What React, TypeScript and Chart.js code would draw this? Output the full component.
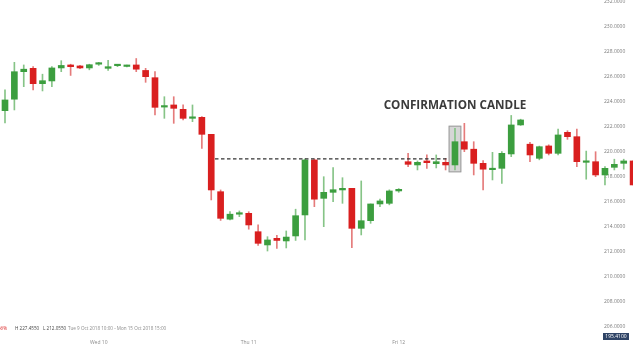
import React, { useEffect, useRef } from "react";
import { Chart, registerables } from "chart.js";
Chart.register(...registerables);

// ---- data (hourly candles, Tue 9 Oct 2018 – Mon 15 Oct 2018) ----
const opens = [
  223.28, 224.2, 226.4, 226.67, 225.44, 225.66, 226.7, 226.94, 226.86, 226.7,
  227.0, 226.67, 226.88, 226.82, 226.94, 226.5, 225.92, 223.57, 223.74, 223.39,
  222.67, 222.75, 221.39, 216.8, 214.6, 215.0, 215.07, 213.6, 212.54, 213.07,
  212.86, 213.26, 214.94, 219.34, 216.27, 216.75, 216.94, 217.07, 213.87, 214.48,
  215.82, 215.87, 216.86, 219.2, 218.94, 219.26, 219.04, 219.15, 218.94, 220.8,
  220.2, 219.07, 218.56, 218.67, 219.82, 222.14, 220.6, 219.47, 220.46, 219.87,
  221.55, 221.2, 219.15, 219.2, 218.14, 218.75, 219.07, 219.26,
];
const highs = [
  224.94, 227.15, 226.94, 226.8, 226.2, 226.8, 227.28, 227.0, 226.9, 227.0,
  227.15, 227.3, 226.95, 226.92, 227.455, 226.67, 226.4, 224.4, 224.4, 223.74,
  223.74, 222.8, 221.39, 216.94, 215.2, 215.26, 215.2, 214.14, 213.2, 213.3,
  213.66, 215.4, 219.42, 219.42, 218.0, 218.72, 217.92, 217.07, 217.66, 215.82,
  216.2, 216.95, 217.05, 219.87, 219.26, 219.74, 219.74, 219.47, 221.87, 222.27,
  220.8, 219.28, 219.95, 220.0, 222.9, 222.6, 220.75, 220.45, 220.55, 221.8,
  221.68, 221.8, 220.05, 220.0, 218.8, 219.4, 219.4, 219.26,
];
const lows = [
  222.3, 223.34, 225.2, 224.94, 224.86, 225.2, 226.4, 226.1, 226.65, 226.55,
  226.9, 226.5, 226.8, 226.78, 226.4, 225.55, 222.94, 222.67, 222.27, 222.54,
  222.4, 220.27, 216.14, 214.5, 214.54, 214.8, 213.8, 212.5, 212.055, 212.27,
  212.3, 212.9, 212.94, 215.6, 214.0, 216.0, 215.87, 212.32, 213.34, 214.27,
  215.6, 215.75, 216.75, 218.8, 218.54, 218.67, 218.7, 218.54, 218.54, 220.0,
  218.14, 216.94, 217.74, 217.47, 219.6, 222.1, 219.2, 219.35, 219.74, 219.74,
  220.99, 218.8, 217.8, 218.0, 217.34, 218.54, 218.6, 217.34,
];
const closes = [
  224.14, 226.4, 226.6, 225.44, 225.68, 226.7, 226.9, 226.8, 226.7, 226.96,
  227.1, 226.8, 226.92, 226.88, 226.6, 226.0, 223.55, 223.65, 223.47, 222.67,
  222.78, 221.39, 216.94, 214.67, 215.0, 215.1, 214.14, 212.67, 212.94, 212.9,
  213.17, 214.88, 219.34, 216.2, 216.75, 216.96, 217.07, 213.87, 214.48, 215.82,
  216.06, 216.86, 216.99, 218.99, 219.15, 219.12, 219.2, 218.94, 220.8, 220.2,
  219.07, 218.6, 218.67, 219.87, 222.14, 222.54, 219.74, 220.4, 219.87, 221.34,
  221.2, 219.2, 219.22, 218.14, 218.67, 218.99, 219.26, 217.34,
];

const dayTickIndex = [10, 26, 42];
const dayTickLabels = ["Wed 10", "Thu 11", "Fri 12"];
const yTickValues = [206, 208, 210, 212, 214, 216, 218, 220, 222, 224, 226, 228, 230, 232];

const resistanceLevel = 219.42;
const resistanceFrom = 22.4;
const resistanceTo = 47.2;
const confirmIndex = 48;
const confirmBoxLow = 218.35;
const confirmBoxHigh = 222.08;
const calloutText = "CONFIRMATION CANDLE";
const calloutIndex = 48.0;
const calloutValue = 223.68;
const lastPriceLabel = "195.4100";
const infoChange = "-2.66%";
const infoHigh = "H 227.4550";
const infoLow = "L 212.0550";
const infoRange = "Tue 9 Oct 2018 10:00 - Mon 15 Oct 2018 15:00";

const GREEN = "#3c9e3f";
const RED = "#d91f1f";
const GREEN_WICK = "#86c487";
const RED_WICK = "#e57b7b";

const overlayPlugin = {
  id: "overlay",
  beforeDatasetsDraw(chart: any) {
    const { ctx, chartArea } = chart;
    const x = chart.scales.x;
    const y = chart.scales.y;
    ctx.save();
    ctx.font = '5px "Open Sans"';
    ctx.fillStyle = "#7a7a7a";
    ctx.textAlign = "left";
    ctx.textBaseline = "middle";
    yTickValues.forEach((v) => {
      ctx.fillText(v.toFixed(4), chartArea.right - 29, y.getPixelForValue(v));
    });
    const x0 = x.getPixelForValue(confirmIndex - 0.68);
    const x1 = x.getPixelForValue(confirmIndex + 0.68);
    const y0 = y.getPixelForValue(confirmBoxHigh);
    const y1 = y.getPixelForValue(confirmBoxLow);
    ctx.fillStyle = "rgba(200,200,200,0.75)";
    ctx.fillRect(x0, y0, x1 - x0, y1 - y0);
    ctx.strokeStyle = "#9c9c9c";
    ctx.lineWidth = 1;
    ctx.strokeRect(x0 + 0.5, y0 + 0.5, x1 - x0 - 1, y1 - y0 - 1);
    ctx.restore();
  },
  afterDatasetsDraw(chart: any) {
    const { ctx } = chart;
    const x = chart.scales.x;
    const y = chart.scales.y;
    ctx.save();
    ctx.font = 'bold 11.7px "Open Sans"';
    ctx.fillStyle = "#3b3b3b";
    ctx.textAlign = "center";
    ctx.textBaseline = "middle";
    ctx.fillText(calloutText, x.getPixelForValue(calloutIndex), y.getPixelForValue(calloutValue));
    ctx.restore();
  },
  afterDraw(chart: any) {
    const { ctx, chartArea } = chart;
    const x = chart.scales.x;
    ctx.save();
    // day labels along the time axis
    ctx.font = '5px "Open Sans"';
    ctx.fillStyle = "#8a8a8a";
    ctx.textAlign = "center";
    ctx.textBaseline = "middle";
    dayTickIndex.forEach((v, k) => {
      ctx.fillText(dayTickLabels[k], x.getPixelForValue(v), chartArea.bottom + 8);
    });
    // info line
    const iy = chartArea.bottom - 6;
    ctx.font = '4.6px "Open Sans"';
    ctx.textAlign = "right";
    ctx.fillStyle = RED;
    ctx.fillText(infoChange, 7, iy);
    ctx.textAlign = "left";
    ctx.fillStyle = "#444";
    ctx.fillText(infoHigh, 15, iy);
    ctx.fillText(infoLow, 43, iy);
    ctx.fillStyle = "#8a8a8a";
    ctx.fillText(infoRange, 68, iy);
    // last price tag
    const bw = 26;
    const bh = 7;
    const bx = chartArea.right - 4 - bw;
    const by = chartArea.bottom - 2;
    ctx.fillStyle = "#2f4466";
    ctx.fillRect(bx, by, bw, bh);
    ctx.fillStyle = "#ffffff";
    ctx.textAlign = "center";
    ctx.font = '5px "Open Sans"';
    ctx.fillText(lastPriceLabel, bx + bw / 2, by + bh / 2 + 0.3);
    ctx.restore();
  },
};

export default function App() {
  const ref = useRef<HTMLCanvasElement | null>(null);
  useEffect(() => {
    if (!ref.current) return;
    const idx = opens.map((_, i) => i);
    const up = idx.map((i) => closes[i] >= opens[i]);
    const chart = new Chart(ref.current, {
      type: "bar",
      data: {
        datasets: [
          {
            type: "line",
            data: [
              { x: resistanceFrom, y: resistanceLevel },
              { x: resistanceTo, y: resistanceLevel },
            ],
            borderColor: "#333333",
            borderWidth: 1.2,
            borderDash: [3.5, 2.5],
            pointRadius: 0,
            fill: false,
          } as any,
          {
            data: idx.map((i) => ({ x: i, y: [opens[i], closes[i]] })),
            backgroundColor: idx.map((i) => (up[i] ? GREEN : RED)),
            barThickness: 6,
            minBarLength: 1.5,
            grouped: false,
          } as any,
          {
            data: idx.map((i) => ({ x: i, y: [lows[i], highs[i]] })),
            backgroundColor: idx.map((i) => (up[i] ? GREEN_WICK : RED_WICK)),
            barThickness: 1,
            grouped: false,
          } as any,
        ],
      },
      options: {
        animation: false,
        responsive: false,
        maintainAspectRatio: false,
        layout: { padding: { left: 0, right: 7, top: 0, bottom: 25 } },
        plugins: { legend: { display: false }, tooltip: { enabled: false } },
        scales: {
          x: {
            type: "linear",
            display: false,
            min: -0.533,
            max: 66.99,
            offset: false,
          },
          y: { display: false, min: 205.336, max: 232.136 },
        },
      },
      plugins: [overlayPlugin],
    });
    return () => chart.destroy();
  }, []);
  return (
    <div style={{ position: "fixed", left: 0, top: 0, width: 640, height: 360, background: "#fff" }}>
      <canvas ref={ref} width={640} height={360} style={{ width: 640, height: 360 }} />
    </div>
  );
}
